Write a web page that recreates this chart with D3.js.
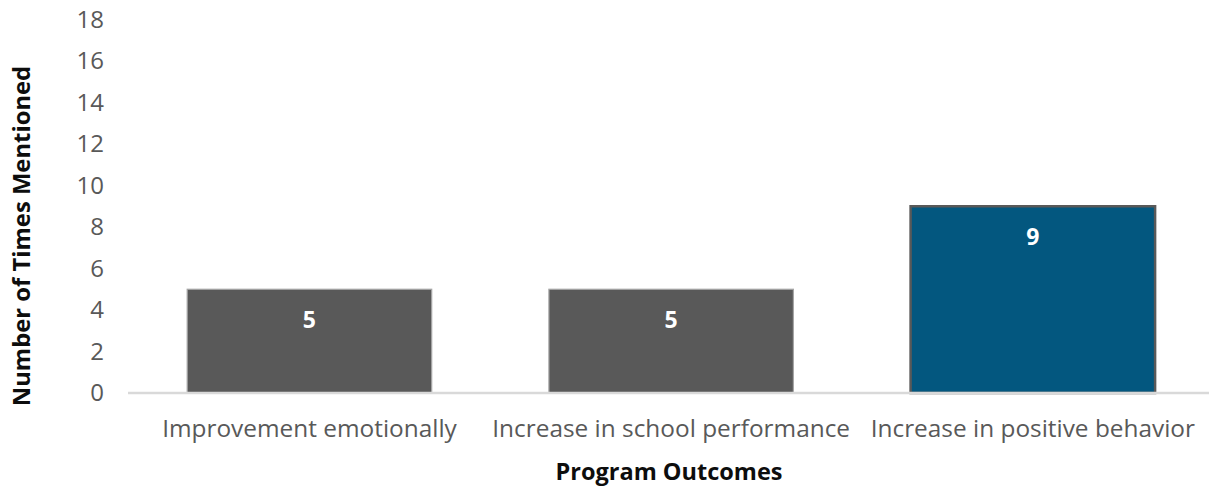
<!DOCTYPE html>
<html>
<head>
<meta charset="utf-8">
<script src="https://cdn.jsdelivr.net/npm/d3@7"></script>
<style>
  html, body { margin: 0; padding: 0; background: #fff; }
  svg { display: block; }
  text { font-family: "Open Sans", "Noto Sans", sans-serif; }
</style>
</head>
<body>
<svg id="chart" width="1209" height="487"></svg>
<script>
// Program outcomes and how often each was mentioned
const categories = ["Improvement emotionally", "Increase in school performance", "Increase in positive behavior"];
const mentions = [5, 5, 9];
const barFills = ["#595959", "#595959", "#03577f"];
const barStrokes = ["#a6a6a6", "#a6a6a6", "#595959"];
const yTicks = [0, 2, 4, 6, 8, 10, 12, 14, 16, 18];

const svg = d3.select("#chart");

const x = d3.scaleBand()
  .domain(categories)
  .range([128.6, 1213.7])
  .paddingInner(0.324)
  .paddingOuter(0.162);

const y = d3.scaleLinear()
  .domain([0, 18])
  .range([393, 19.5]);

// y tick labels (no axis line, no gridlines)
const yAxis = svg.append("g")
  .attr("transform", "translate(104,0)")
  .call(d3.axisLeft(y).tickValues(yTicks).tickSize(0).tickPadding(0));
yAxis.select(".domain").remove();
yAxis.selectAll("text")
  .attr("fill", "#595959")
  .style("font-size", "24px");

// bars
svg.append("g").selectAll("rect")
  .data(categories)
  .join("rect")
  .attr("x", d => x(d))
  .attr("width", x.bandwidth())
  .attr("y", (d, i) => y(mentions[i]))
  .attr("height", (d, i) => y(0) - y(mentions[i]))
  .attr("fill", (d, i) => barFills[i])
  .attr("stroke", (d, i) => barStrokes[i])
  .attr("stroke-width", (d, i) => i === 2 ? 2.5 : 1.2);

// category axis along the baseline
const xAxis = svg.append("g")
  .attr("transform", `translate(0,${y(0)})`)
  .call(d3.axisBottom(x).tickSize(0).tickPadding(0));
xAxis.select(".domain")
  .attr("stroke", "#d9d9d9")
  .attr("stroke-width", 2.5)
  .attr("d", `M128,0H1209`);
xAxis.selectAll("text")
  .attr("fill", "#595959")
  .attr("dy", null)
  .attr("y", 44)
  .style("font-size", "24.4px");

// value labels inside the top of each bar
svg.append("g").selectAll("text")
  .data(categories)
  .join("text")
  .attr("x", d => x(d) + x.bandwidth() / 2)
  .attr("y", (d, i) => y(mentions[i]) + 33)
  .attr("text-anchor", "middle")
  .attr("dominant-baseline", "middle")
  .attr("fill", "#ffffff")
  .style("font-size", "23px")
  .style("font-weight", "700")
  .text((d, i) => mentions[i]);

// axis titles
svg.append("text")
  .attr("x", 669)
  .attr("y", 480)
  .attr("text-anchor", "middle")
  .attr("fill", "#0d0d0d")
  .style("font-size", "23.5px")
  .style("font-weight", "700")
  .text("Program Outcomes");

svg.append("text")
  .attr("transform", "translate(24,236) rotate(-90)")
  .attr("text-anchor", "middle")
  .attr("dominant-baseline", "middle")
  .attr("fill", "#0d0d0d")
  .style("font-size", "23.8px")
  .style("font-weight", "700")
  .text("Number of Times Mentioned");
</script>
</body>
</html>
